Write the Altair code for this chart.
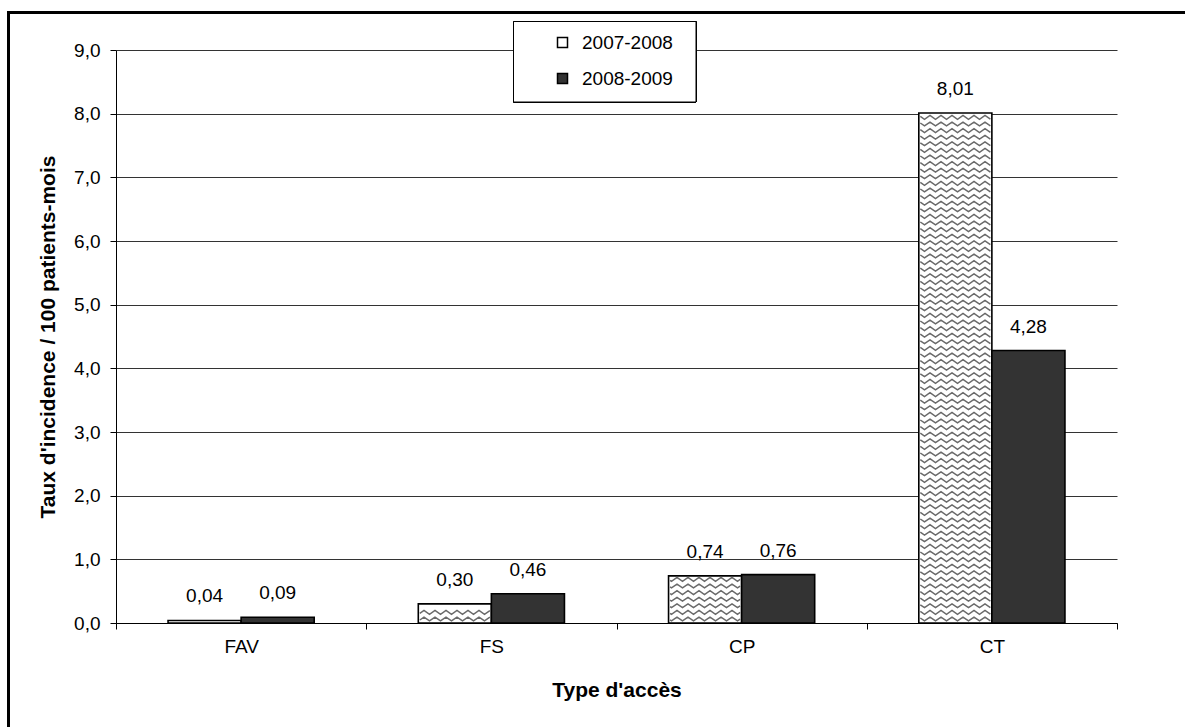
import altair as alt
import numpy as np
import pandas as pd

# Incidence rates per access type, two periods
CATEGORIES = ["FAV", "FS", "CP", "CT"]
SERIES = ["2007-2008", "2008-2009"]
VALUES_2007 = [0.04, 0.30, 0.74, 8.01]
VALUES_2008 = [0.09, 0.46, 0.76, 4.28]
Y_TICKS = [0, 1, 2, 3, 4, 5, 6, 7, 8, 9]
SERIES_FILL = ["#ffffff", "#333333"]

W, H = 1001, 573
Y_MAX = 9
BAR_W = 0.292                      # bar width as a share of one category slot
PX_X = W / len(CATEGORIES)         # pixels per category unit
PX_Y = H / Y_MAX                   # pixels per rate unit
FONT = "Liberation Sans"

# one row per bar, x0/x1 in category units
rows = []
for i, cat in enumerate(CATEGORIES):
    for s, vals in enumerate((VALUES_2007, VALUES_2008)):
        v = vals[i]
        x0 = i + 0.5 - BAR_W if s == 0 else i + 0.5
        rows.append(dict(cat=cat, series=SERIES[s], value=v, x0=x0, x1=x0 + BAR_W,
                         xm=x0 + BAR_W / 2, label=f"{v:.2f}".replace(".", ",")))
bars = pd.DataFrame(rows)

# wavy hatch texture for the first period's bars
PERIOD, AMP, ROW_GAP = 11.0, 1.9, 6.6
pts = []
line_id = 0
for r in bars[bars.series == SERIES[0]].itertuples():
    h_px = r.value * PX_Y
    left, right = r.x0 * PX_X + 1.5, r.x1 * PX_X - 1.5
    yb = 4.0
    while yb + AMP < h_px - 1.5:
        k0 = int(np.ceil(left / (PERIOD / 2)))
        k1 = int(np.floor(right / (PERIOD / 2)))
        xs = [left] + [k * PERIOD / 2 for k in range(k0, k1 + 1)] + [right]
        for x in xs:
            p = x / PERIOD
            tri = 4 * abs(p - np.floor(p) - 0.5) - 1
            pts.append(dict(line=line_id, px=x / PX_X, py=(yb + AMP * tri) / PX_Y))
        line_id += 1
        yb += ROW_GAP
waves = pd.DataFrame(pts)

x_scale = alt.Scale(domain=[0, len(CATEGORIES)], nice=False, zero=False)
y_scale = alt.Scale(domain=[0, Y_MAX], nice=False)

label_expr = " : ".join(f"datum.value == {i} ? '{c}'" for i, c in enumerate(CATEGORIES)) + " : ''"

x_axis = alt.Axis(values=list(range(len(CATEGORIES) + 1)), labelExpr=label_expr,
                  labelOffset=PX_X / 2, labelFlush=False, labelOverlap=False,
                  tickSize=6, tickColor="black", domainColor="black", grid=False,
                  labelFontSize=19, labelPadding=8, labelColor="black",
                  title="Type d'accès", titleFontSize=21, titleFontWeight="bold",
                  titlePadding=23, titleColor="black")
y_axis = alt.Axis(values=Y_TICKS, labelExpr="replace(format(datum.value, '.1f'), '.', ',')",
                  tickSize=6, tickColor="black", domainColor="black",
                  grid=True, gridColor="#333333", gridWidth=1,
                  labelFontSize=19, labelPadding=10, labelColor="black",
                  title="Taux d'incidence / 100 patients-mois", titleFontSize=21,
                  titleFontWeight="bold", titlePadding=15, titleColor="black")

base = alt.Chart(bars)

bar_layer = base.mark_rect(stroke="black", strokeWidth=1.6).encode(
    x=alt.X("x0:Q", scale=x_scale, axis=x_axis),
    x2="x1:Q",
    y=alt.Y("value:Q", scale=y_scale, axis=y_axis),
    y2=alt.datum(0),
    fill=alt.Fill("series:N", scale=alt.Scale(domain=SERIES, range=SERIES_FILL),
                  legend=alt.Legend(title=None, orient="none", legendX=437, legendY=-17,
                                    symbolType="square", symbolSize=100,
                                    symbolStrokeColor="black", symbolStrokeWidth=1.5,
                                    labelFontSize=19, labelFont=FONT, labelOffset=10,
                                    labelColor="black", rowPadding=16, padding=0)),
)

wave_layer = alt.Chart(waves).mark_line(stroke="#6a6a6a", strokeWidth=1.5).encode(
    x=alt.X("px:Q", scale=x_scale),
    y=alt.Y("py:Q", scale=y_scale),
    detail="line:N",
)

text_layer = base.mark_text(fontSize=19, font=FONT, baseline="alphabetic", dy=-18,
                            color="black").encode(
    x=alt.X("xm:Q", scale=x_scale),
    y=alt.Y("value:Q", scale=y_scale),
    text="label:N",
)

legend_box = alt.Chart(bars).mark_rect(fill="white", stroke="black", strokeWidth=1).encode(
    x=alt.value(397.5), x2=alt.value(580), y=alt.value(-28.5), y2=alt.value(52)
)

frame = alt.Chart(bars).mark_rect(fill="white", fillOpacity=0, stroke="black",
                                  strokeWidth=2.5).encode(
    x=alt.value(-107.3), x2=alt.value(1200), y=alt.value(-37.7), y2=alt.value(800)
)

chart = alt.layer(bar_layer, wave_layer, text_layer, legend_box, frame).properties(
    width=W, height=H,
    padding={"left": 116, "top": 50, "right": 68, "bottom": 104},
    autosize=alt.AutoSizeParams(type="none"),
).configure(font=FONT).configure_view(stroke=None).configure_axis(
    labelFont=FONT, titleFont=FONT
)

chart.save("out.html", embed_options={"renderer": "svg", "actions": False})
